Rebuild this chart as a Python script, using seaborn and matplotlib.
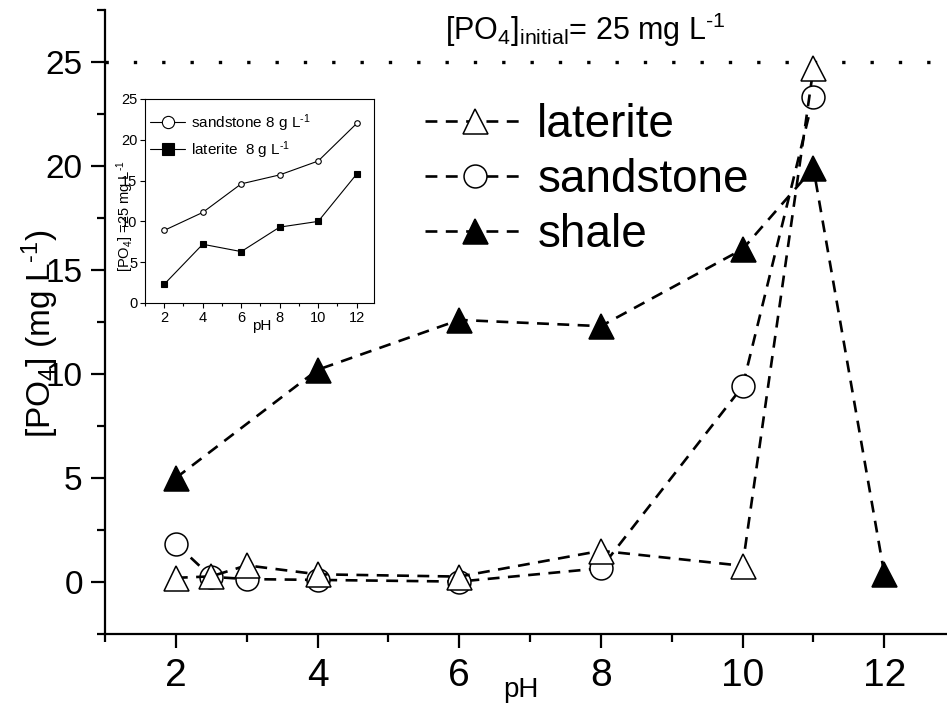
import matplotlib
matplotlib.use("Agg")
import matplotlib.pyplot as plt
from matplotlib.ticker import MultipleLocator
from matplotlib import font_manager
import seaborn as sns

# ---- data ----
ph = [2, 2.5, 3, 4, 6, 8, 10, 11]
laterite = [0.2, 0.27, 0.8, 0.37, 0.26, 1.5, 0.78, 24.7]
sandstone = [1.84, 0.25, 0.14, 0.1, 0.02, 0.66, 9.4, 23.3]
ph_shale = [2, 4, 6, 8, 10, 11, 12]
shale = [5.0, 10.2, 12.6, 12.3, 16.0, 19.9, 0.4]

inset_ph = [2, 4, 6, 8, 10, 12]
inset_sandstone = [8.9, 11.1, 14.6, 15.7, 17.4, 22.0]
inset_laterite = [2.3, 7.2, 6.3, 9.3, 10.0, 15.8]

initial_conc = 25
main_xticks = [2, 4, 6, 8, 10, 12]
main_yticks = [0, 5, 10, 15, 20, 25]
inset_xticks = [2, 4, 6, 8, 10, 12]
inset_yticks = [0, 5, 10, 15, 20, 25]

# ---- style ----
sns.set_style("ticks")
plt.rcParams['font.family'] = ['Liberation Sans', 'DejaVu Sans']
plt.rcParams['mathtext.fontset'] = 'custom'
plt.rcParams['mathtext.rm'] = 'Liberation Sans'
plt.rcParams['mathtext.it'] = 'Liberation Sans:italic'
plt.rcParams['mathtext.bf'] = 'Liberation Sans:bold'
for key in ['text.color', 'axes.labelcolor', 'xtick.color', 'ytick.color',
            'axes.edgecolor', 'legend.labelcolor']:
    plt.rcParams[key] = 'black'

names = {f.name for f in font_manager.fontManager.ttflist}
narrow = 'Liberation Sans Narrow' if 'Liberation Sans Narrow' in names else 'Liberation Sans'

W, H = 947, 711
fig = plt.figure(figsize=(W / 100, H / 100), dpi=100)


def fx(px):
    return px / W


def fy(py):
    return 1 - py / H


INV = r'$^{\text{-}1}$'

ax = fig.add_axes([fx(105), fy(634), fx(948) - fx(105), fy(10) - fy(634)])

dash = (0, (4.5, 3.2))
lw = 1.9
sns.lineplot(x=ph, y=sandstone, ax=ax, color='black', linewidth=lw, linestyle=dash,
             marker='o', markersize=16.5, markerfacecolor='white', markeredgecolor='black',
             markeredgewidth=1.1, label='sandstone', sort=False)
sns.lineplot(x=ph, y=laterite, ax=ax, color='black', linewidth=lw, linestyle=dash,
             marker='^', markersize=18, markerfacecolor='white', markeredgecolor='black',
             markeredgewidth=1.1, label='laterite', sort=False)
sns.lineplot(x=ph_shale, y=shale, ax=ax, color='black', linewidth=lw, linestyle=dash,
             marker='^', markersize=18, markerfacecolor='black', markeredgecolor='black',
             markeredgewidth=1.1, label='shale', sort=False)

ax.axhline(initial_conc, color='black', linestyle=(0, (1, 7.5)), linewidth=2.4, zorder=1)

ax.set_xlim(1.0, 12.9)
ax.set_ylim(-2.5, 27.5)
ax.set_xticks(main_xticks, labels=[str(v) for v in main_xticks], fontsize=28, fontfamily=narrow)
ax.set_yticks(main_yticks, labels=[str(v) for v in main_yticks], fontsize=24)
ax.xaxis.set_minor_locator(MultipleLocator(1))
ax.yaxis.set_minor_locator(MultipleLocator(2.5))
ax.tick_params(which='major', direction='out', length=10, width=1.6, colors='black')
ax.tick_params(axis='x', which='major', pad=7)
ax.tick_params(axis='y', which='major', pad=6)
ax.tick_params(which='minor', direction='out', length=6, width=1.6, colors='black')
for s in ['top', 'right']:
    ax.spines[s].set_visible(False)
for s in ['left', 'bottom']:
    ax.spines[s].set_linewidth(1.6)
    ax.spines[s].set_color('black')
ax.set_xlabel('')
ax.set_ylabel('')

handles, labels = ax.get_legend_handles_labels()
order = [labels.index(n) for n in ['laterite', 'sandstone', 'shale']]
ax.legend([handles[i] for i in order], [labels[i] for i in order],
          loc='upper left', bbox_to_anchor=(fx(425), fy(103)), bbox_transform=fig.transFigure,
          frameon=False, fontsize=33, handlelength=2.2, handletextpad=0.25,
          labelspacing=0.24, borderpad=0, borderaxespad=0, labelcolor='black')

fig.text(fx(40), fy(334), '[PO$_4$] (mg L' + INV + ')', rotation=90, ha='center', va='center',
         fontsize=24, color='black')
fig.text(fx(521), fy(690), 'pH', ha='center', va='center', fontsize=20, color='black')
fig.text(fx(585), fy(30), '[PO$_4$]$_{\\mathrm{initial}}$= 25 mg L' + INV, ha='center', va='center',
         fontsize=22, color='black')

# ---- inset ----
axi = fig.add_axes([fx(145), fy(303), fx(374) - fx(145), fy(99) - fy(303)])
sns.lineplot(x=inset_ph, y=inset_sandstone, ax=axi, color='black', linewidth=0.8,
             marker='o', markersize=4, markerfacecolor='white', markeredgecolor='black',
             markeredgewidth=0.8, label='sandstone 8 g L' + INV, sort=False)
sns.lineplot(x=inset_ph, y=inset_laterite, ax=axi, color='black', linewidth=0.8,
             marker='s', markersize=4, markerfacecolor='black', markeredgecolor='black',
             markeredgewidth=0.8, label='laterite  8 g L' + INV, sort=False)
axi.set_xlim(1.0, 12.9)
axi.set_ylim(0, 25)
axi.set_xticks(inset_xticks, labels=[str(v) for v in inset_xticks], fontsize=10.5)
axi.set_yticks(inset_yticks, labels=[str(v) for v in inset_yticks], fontsize=10.5)
axi.xaxis.set_minor_locator(MultipleLocator(1))
axi.tick_params(which='major', direction='out', length=3.5, width=0.8, pad=2, colors='black')
axi.tick_params(which='minor', direction='out', length=2, width=0.8, colors='black')
for s in axi.spines.values():
    s.set_linewidth(0.8)
    s.set_color('black')
axi.set_xlabel('')
axi.set_ylabel('')
axi.legend(loc='upper left', bbox_to_anchor=(fx(150), fy(112)), bbox_transform=fig.transFigure,
           frameon=False, fontsize=11, handlelength=2.3, handletextpad=0.4,
           labelspacing=0.35, borderpad=0, borderaxespad=0, markerscale=2.2, labelcolor='black')
fig.text(fx(262), fy(326), 'pH', ha='center', va='center', fontsize=11, color='black')
fig.text(fx(125), fy(216), '[PO$_4$] =25 mg L' + INV, rotation=90, ha='center', va='center',
         fontsize=10.5, color='black')

fig.savefig('out.png', dpi=100)
